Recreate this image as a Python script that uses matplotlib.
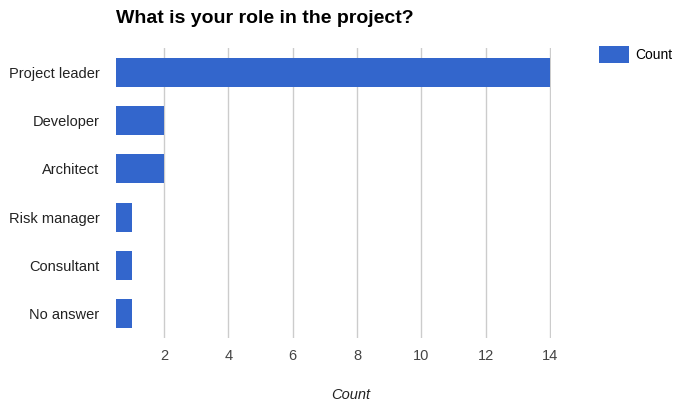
import matplotlib.pyplot as plt
from matplotlib.patches import Patch

roles = ['Project leader', 'Developer', 'Architect', 'Risk manager', 'Consultant', 'No answer']
counts = [14, 2, 2, 1, 1, 1]
xticks = [2, 4, 6, 8, 10, 12, 14]

plt.rcParams['font.family'] = ['Liberation Sans', 'DejaVu Sans']
blue = '#3366cc'

fig = plt.figure(figsize=(6.78, 4.03), dpi=100)
ax = fig.add_axes([0.171, 0.161, 0.6416, 0.72])

ypos = list(range(len(roles)))
# bars start at the left edge of the axis (0.5), like the original chart
ax.barh(ypos, [c - 0.5 for c in counts], left=0.5, height=0.6, color=blue, zorder=3)

ax.set_xlim(0.5, 14.03)
ax.set_ylim(len(roles) - 0.5, -0.5)
ax.set_yticks(ypos)
ax.set_yticklabels(roles, fontsize=10.5, color='#222222')
ax.set_xticks(xticks)
ax.set_xticklabels([str(t) for t in xticks], fontsize=10.5, color='#444444')
ax.tick_params(axis='both', length=0)
ax.tick_params(axis='y', pad=12)
ax.tick_params(axis='x', pad=8)
ax.grid(axis='x', color='#cccccc', linewidth=1, zorder=0)
for s in ax.spines.values():
    s.set_visible(False)

fig.text(0.517, 0.02, 'Count', fontsize=10.5, style='italic', color='#222222',
         ha='center', va='center')
fig.text(0.171, 0.955, 'What is your role in the project?', fontsize=14,
         fontweight='bold', color='#000000', ha='left', va='center')

handles = [Patch(facecolor=blue, edgecolor='none', label='Count')]
fig.legend(handles=handles, loc='upper left', bbox_to_anchor=(0.883, 0.885),
           frameon=False, fontsize=10, handlelength=2.16, handleheight=1.5,
           handletextpad=0.5, borderaxespad=0, borderpad=0)

fig.savefig('out.png', dpi=100)
